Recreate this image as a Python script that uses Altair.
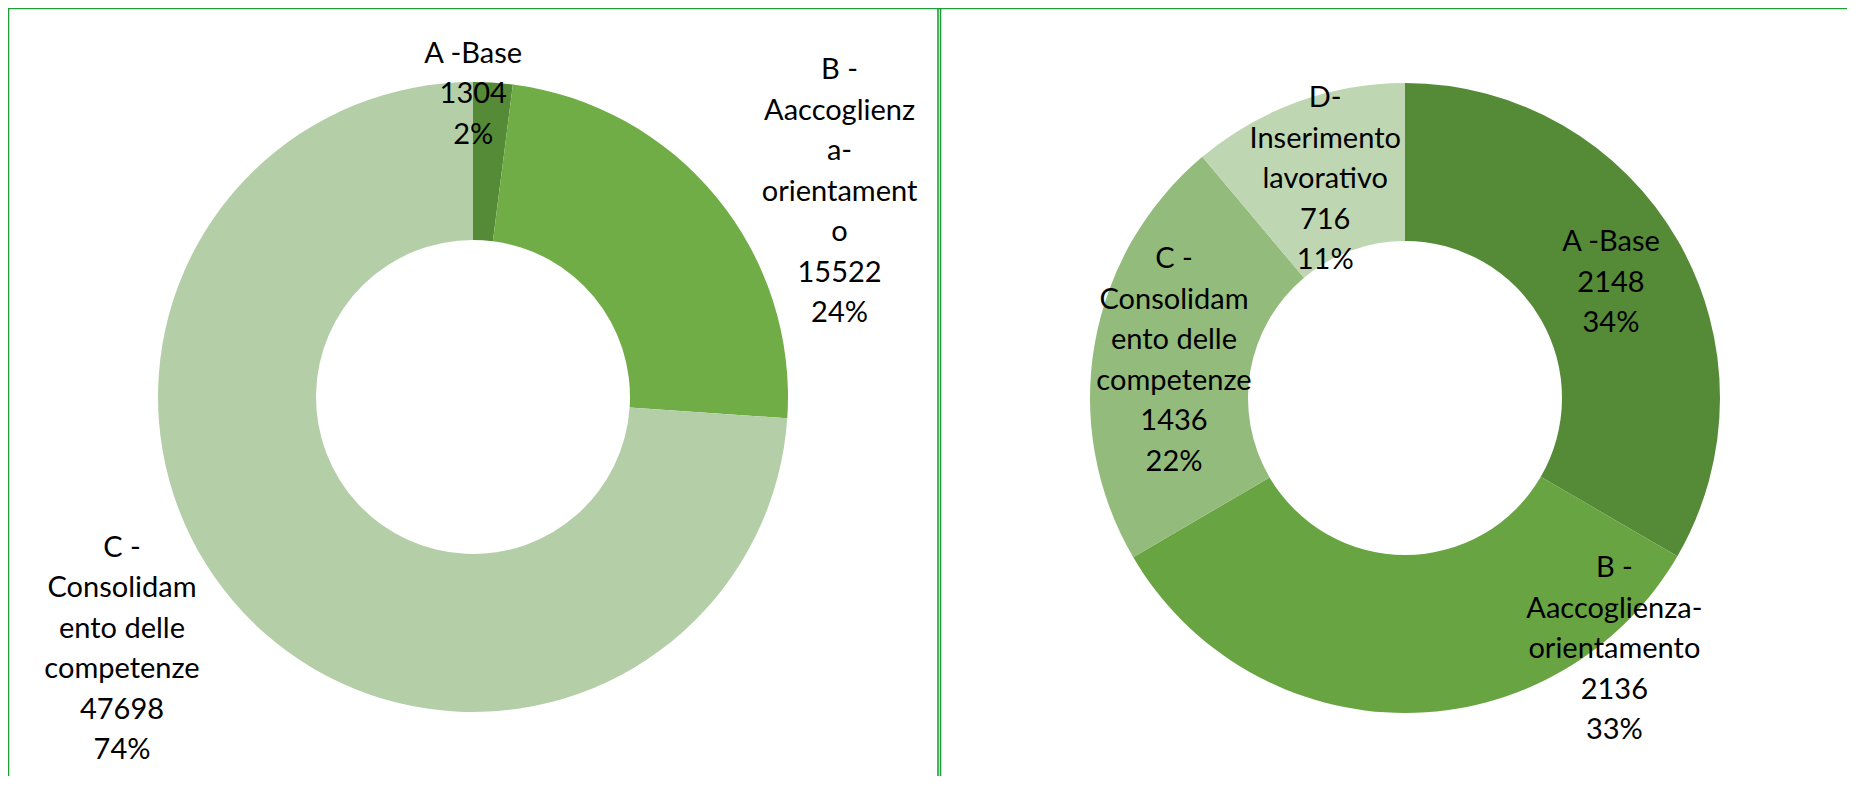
import math
import altair as alt
import pandas as pd

# ---- data ----
left_labels = [
    "A -Base",
    "B -\nAaccoglienz\na-\norientament\no",
    "C -\nConsolidam\nento delle\ncompetenze",
]
left_values = [1304, 15522, 47698]
left_pcts = ["2%", "24%", "74%"]

right_labels = [
    "A -Base",
    "B -\nAaccoglienza-\norientamento",
    "C -\nConsolidam\nento delle\ncompetenze",
    "D-\nInserimento\nlavorativo",
]
right_values = [2148, 2136, 1436, 716]
right_pcts = ["34%", "33%", "22%", "11%"]

# ---- styles / layout ----
left_colors = ["#558B37", "#70AD47", "#B4CFA8"]
right_colors = ["#558A37", "#69A443", "#93BB7B", "#BFD6B3"]
left_shift_deg = [-3.6, 10.2, 7.4]
left_label_r = [303, 420, 432]
right_shift_deg = [0.7, -39.7, -0.6, 0.0]
right_label_r = [236, 327, 234, 233]

W, H = 1839, 768
OUTER, INNER = 315, 157
LEFT_C = (465, 389)
RIGHT_C = (1397, 390)
FRAME = "#1F9D3B"
FONT = "Lato"
LH = 40.5


def make_df(labels, values, pcts, colors, shifts, radii, key):
    total = sum(values)
    rows, cum = [], 0
    for i, (lab, v, p, c, s, r) in enumerate(zip(labels, values, pcts, colors, shifts, radii)):
        mid = (cum + v / 2) / total * 360.0
        cum += v
        text = f"{lab}\n{v}\n{p}"
        n = text.count("\n") + 1
        # block centre in polar -> first-line anchor in polar
        th = math.radians(mid + s)
        dx, dup = r * math.sin(th), r * math.cos(th)
        dup += (n - 1) * LH / 2
        th2 = math.degrees(math.atan2(dx, dup)) % 360
        r2 = math.hypot(dx, dup)
        rows.append({
            "key": f"{key}{i}", "order": i, "value": v, "color": c,
            "text": text, "label_theta": th2, "label_r": r2,
        })
    return pd.DataFrame(rows)


def donut(df, center):
    cx, cy = center
    arc = alt.Chart(df).mark_arc(outerRadius=OUTER, innerRadius=INNER, stroke=None).encode(
        theta=alt.Theta("value:Q", stack=True),
        color=alt.Color("color:N", scale=None),
        order=alt.Order("order:Q"),
        x=alt.value(cx), y=alt.value(cy),
    )
    txt = alt.Chart(df).mark_text(
        font=FONT, fontSize=29, lineHeight=LH, lineBreak="\n",
        align="center", baseline="middle", color="#000000",
    ).encode(
        text="text:N",
        theta=alt.Theta("label_theta:Q", scale=alt.Scale(domain=[0, 360], range=[0, 2 * math.pi])),
        radius=alt.Radius("label_r:Q", scale=None),
        x=alt.value(cx), y=alt.value(cy),
    )
    return alt.layer(arc, txt).resolve_scale(theta="independent")


left_df = make_df(left_labels, left_values, left_pcts, left_colors, left_shift_deg, left_label_r, "L")
right_df = make_df(right_labels, right_values, right_pcts, right_colors, right_shift_deg, right_label_r, "R")

frame_df = pd.DataFrame({
    "x": [0, 0.5, 930, 932.5],
    "x2": [W, 0.5, 930, 932.5],
    "y": [0.5, 0, 0, 0],
    "y2": [0.5, H, H, H],
})
frame = alt.Chart(frame_df).mark_rule(color=FRAME, strokeWidth=1.6).encode(
    x=alt.X("x:Q", scale=None), x2="x2:Q",
    y=alt.Y("y:Q", scale=None), y2="y2:Q",
)

chart = alt.layer(
    donut(left_df, LEFT_C), donut(right_df, RIGHT_C), frame
).resolve_scale(theta="independent", color="independent").properties(
    width=W, height=H, autosize=alt.AutoSizeParams(type="none"), padding=0,
).configure_view(stroke=None).configure(background="white")

chart.save("out.html", embed_options={"renderer": "svg", "actions": False})
